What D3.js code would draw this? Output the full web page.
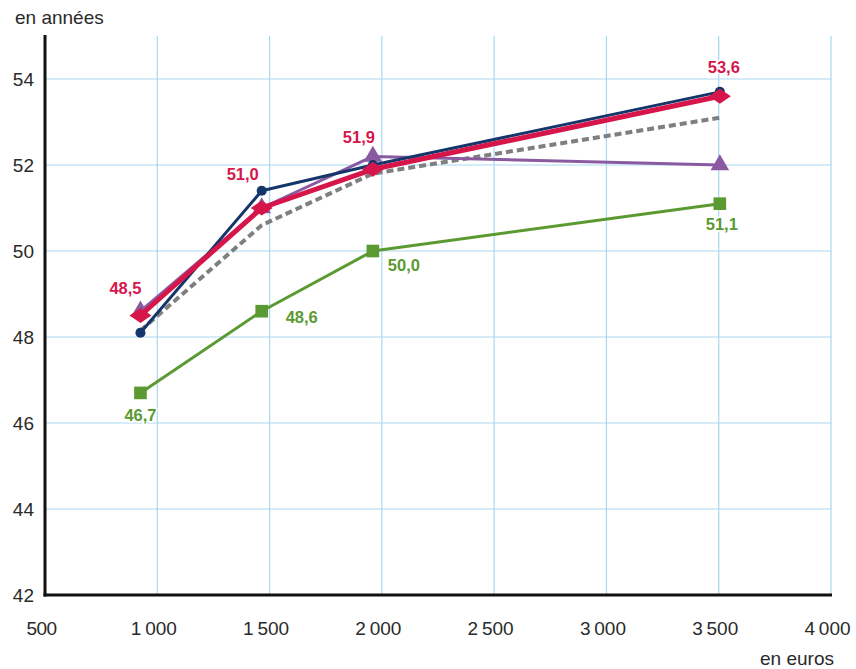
<!DOCTYPE html>
<html><head><meta charset="utf-8">
<script src="https://cdn.jsdelivr.net/npm/d3@7/dist/d3.min.js"></script>
<style>body{margin:0;background:#fff}svg{display:block;font-family:"Liberation Sans",Arial,sans-serif}</style>
</head><body><svg id="c" width="856" height="669"></svg>
<script>
// Revenue levels (euros) and mean age (years)
const incomes = [925, 1465, 1960, 3505];
const navy   = [48.1, 51.4, 52.0, 53.7];
const red    = [48.5, 51.0, 51.9, 53.6];
const purple = [48.6, 51.0, 52.2, 52.0];
const gray   = [48.15, 50.6, 51.8, 53.1];
const green  = [46.7, 48.6, 50.0, 51.1];
const xTicks = [500, 1000, 1500, 2000, 2500, 3000, 3500, 4000];
const yTicks = [42, 44, 46, 48, 50, 52, 54];

const svg = d3.select("#c");
const x = d3.scaleLinear().domain([500, 4000]).range([45, 831]);
const y = d3.scaleLinear().domain([42, 55]).range([595, 36]);
const fmt = v => d3.format(".1f")(v).replace(".", ",");
const fmtX = v => v >= 1000 ? Math.floor(v/1000) + "\u202F" + String(v%1000).padStart(3,"0") : String(v);

// grid
svg.append("g").selectAll("line").data(yTicks.filter(d => d > 42)).join("line")
  .attr("x1", 45).attr("x2", 831).attr("y1", d => y(d)).attr("y2", d => y(d))
  .attr("stroke", "#a9d7f2").attr("stroke-width", 1.2);
svg.append("g").selectAll("line").data(xTicks.filter(d => d > 500)).join("line")
  .attr("x1", d => x(d)).attr("x2", d => x(d)).attr("y1", 36).attr("y2", 595)
  .attr("stroke", "#a9d7f2").attr("stroke-width", 1.2);

// axes
const yAxis = svg.append("g").attr("transform", "translate(45,0)")
  .call(d3.axisLeft(y).tickValues(yTicks).tickSize(0).tickPadding(11));
yAxis.select(".domain").remove();
yAxis.selectAll("text").attr("font-size", 19).attr("fill", "#2a2a2a").attr("dy", "0.36em");
const xAxis = svg.append("g").attr("transform", "translate(-4,595)")
  .call(d3.axisBottom(x).tickValues(xTicks).tickSize(0).tickPadding(27).tickFormat(fmtX));
xAxis.select(".domain").remove();
xAxis.selectAll("text").attr("font-size", 19).attr("fill", "#2a2a2a").attr("letter-spacing", -0.6);

svg.append("line").attr("x1", 45).attr("x2", 45).attr("y1", 35).attr("y2", 596.5)
  .attr("stroke", "#111").attr("stroke-width", 3);
svg.append("line").attr("x1", 43.5).attr("x2", 832).attr("y1", 595).attr("y2", 595)
  .attr("stroke", "#111").attr("stroke-width", 3);

svg.append("text").attr("x", 15).attr("y", 24).attr("font-size", 19).attr("fill", "#2a2a2a").text("en années");
svg.append("text").attr("x", 834).attr("y", 665).attr("text-anchor", "end").attr("font-size", 19)
  .attr("fill", "#2a2a2a").text("en euros");

const line = d3.line().x((d, i) => x(incomes[i])).y(d => y(d));
// wide diamond marker
const wideDiamond = "M-11,0L0,-7.5L11,0L0,7.5Z";

function series(vals, color, width, dash, marker, size) {
  const g = svg.append("g");
  g.append("path").datum(vals).attr("d", line).attr("fill", "none")
    .attr("stroke", color).attr("stroke-width", width)
    .attr("stroke-dasharray", dash || null).attr("stroke-linejoin", "round");
  if (marker) {
    g.selectAll("path.m").data(vals).join("path").attr("class", "m")
      .attr("transform", (d, i) => `translate(${x(incomes[i])},${y(d)})`)
      .attr("d", typeof marker === "string" ? marker : d3.symbol().type(marker).size(size)())
      .attr("fill", color);
  }
}

series(gray, "#7f7f7f", 4, "7,4", null);
series(green, "#5b9a32", 3, null, d3.symbolSquare, 160);
series(purple, "#8a5aa0", 3, null, d3.symbolTriangle, 150);
series(navy, "#15366b", 3, null, d3.symbolCircle, 80);
series(red, "#d6164b", 5, null, wideDiamond);

// value labels
function labels(vals, color, offsets) {
  svg.append("g").selectAll("text").data(vals).join("text")
    .attr("x", (d, i) => x(incomes[i]) + offsets[i][0])
    .attr("y", (d, i) => y(d) + offsets[i][1])
    .attr("text-anchor", "middle").attr("font-size", 16.5).attr("font-weight", "bold")
    .attr("fill", color).attr("stroke", "#fff").attr("stroke-width", 3).attr("paint-order", "stroke")
    .text(d => fmt(d));
}
labels(red, "#d6164b", [[-15, -22], [-19, -28], [-14, -26], [4, -23]]);
labels(green, "#5b9a32", [[0, 28], [40, 12], [31, 20], [2, 26]]);
</script></body></html>
